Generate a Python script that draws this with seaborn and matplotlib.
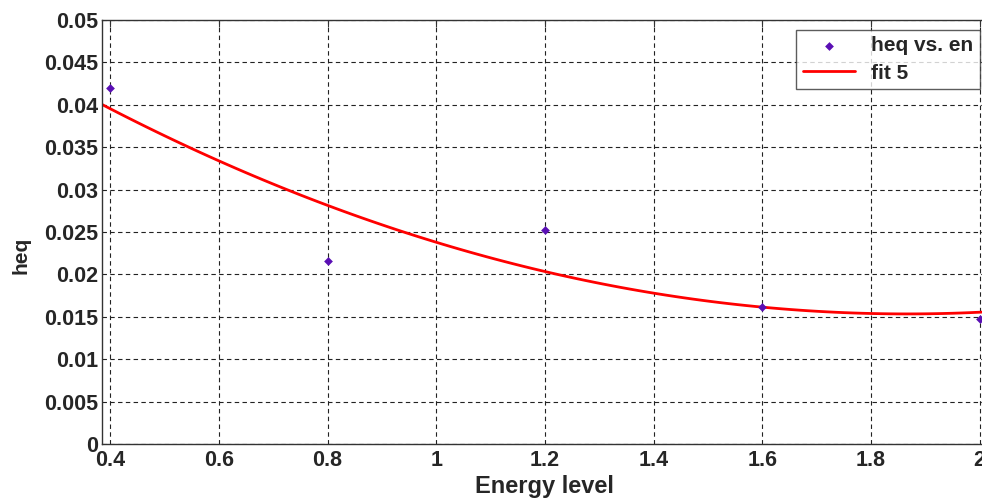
import numpy as np
import pandas as pd
import matplotlib
matplotlib.use("Agg")
import matplotlib.pyplot as plt
import seaborn as sns

# Data
energy = [0.4, 0.8, 1.2, 1.6, 2.0]
heq = [0.0420, 0.0216, 0.0252, 0.0162, 0.0147]
xticks = [0.4, 0.6, 0.8, 1.0, 1.2, 1.4, 1.6, 1.8, 2.0]
xtick_labels = ["0.4", "0.6", "0.8", "1", "1.2", "1.4", "1.6", "1.8", "2"]
yticks = [0, 0.005, 0.01, 0.015, 0.02, 0.025, 0.03, 0.035, 0.04, 0.045, 0.05]
ytick_labels = ["0", "0.005", "0.01", "0.015", "0.02", "0.025", "0.03", "0.035", "0.04", "0.045", "0.05"]

df = pd.DataFrame({"en": energy, "heq": heq})

sns.set_theme(style="white")
plt.rcParams["font.family"] = ["Liberation Sans", "DejaVu Sans"]
plt.rcParams["font.weight"] = "bold"

fig = plt.figure(figsize=(9.82, 5.0), dpi=100)
ax = fig.add_axes([0.1039, 0.112, 0.902, 0.848])

ax.set_xlim(0.385, 2.015)
ax.set_ylim(0, 0.05)

sns.regplot(data=df, x="en", y="heq", order=2, ci=None, scatter=False,
            truncate=False, ax=ax, label="fit 5",
            line_kws=dict(color="#ff0000", lw=2.0))
sns.scatterplot(data=df, x="en", y="heq", ax=ax, marker="D", s=20,
                color="#5a0fb4", edgecolor="#5a0fb4", linewidth=0,
                label="heq vs. en", zorder=5)

ax.set_xticks(xticks)
ax.set_xticklabels(xtick_labels)
ax.set_yticks(yticks)
ax.set_yticklabels(ytick_labels)
ax.set_xlim(0.385, 2.015)
ax.set_ylim(0, 0.05)

ax.grid(True, color="#222222", linestyle=(0, (4, 3)), lw=0.8)
for s in ax.spines.values():
    s.set_color("#333333")
    s.set_linewidth(1.0)
ax.tick_params(direction="in", length=5, width=0.8, color="#333333",
               top=True, right=True, labelsize=15.5, pad=3)
ax.tick_params(axis="x", pad=4)
for lab in ax.get_xticklabels() + ax.get_yticklabels():
    lab.set_fontweight("bold")

ax.set_xlabel("Energy level", fontsize=17, fontweight="bold", labelpad=3)
ax.set_ylabel("heq", fontsize=15, fontweight="bold")
ax.yaxis.set_label_coords(-0.0813, 0.446)

h, l = ax.get_legend_handles_labels()
order = [l.index("heq vs. en"), l.index("fit 5")]
leg = ax.legend([h[i] for i in order], [l[i] for i in order],
                loc="upper right", bbox_to_anchor=(0.991, 0.976),
                borderaxespad=0, frameon=True, fancybox=False,
                handlelength=2.5, borderpad=0.3, labelspacing=0.4,
                handletextpad=0.8, prop=dict(weight="bold", size=15))
leg.get_frame().set_edgecolor("#333333")
leg.get_frame().set_linewidth(1.0)

fig.savefig("out.png", dpi=100, facecolor="white")
